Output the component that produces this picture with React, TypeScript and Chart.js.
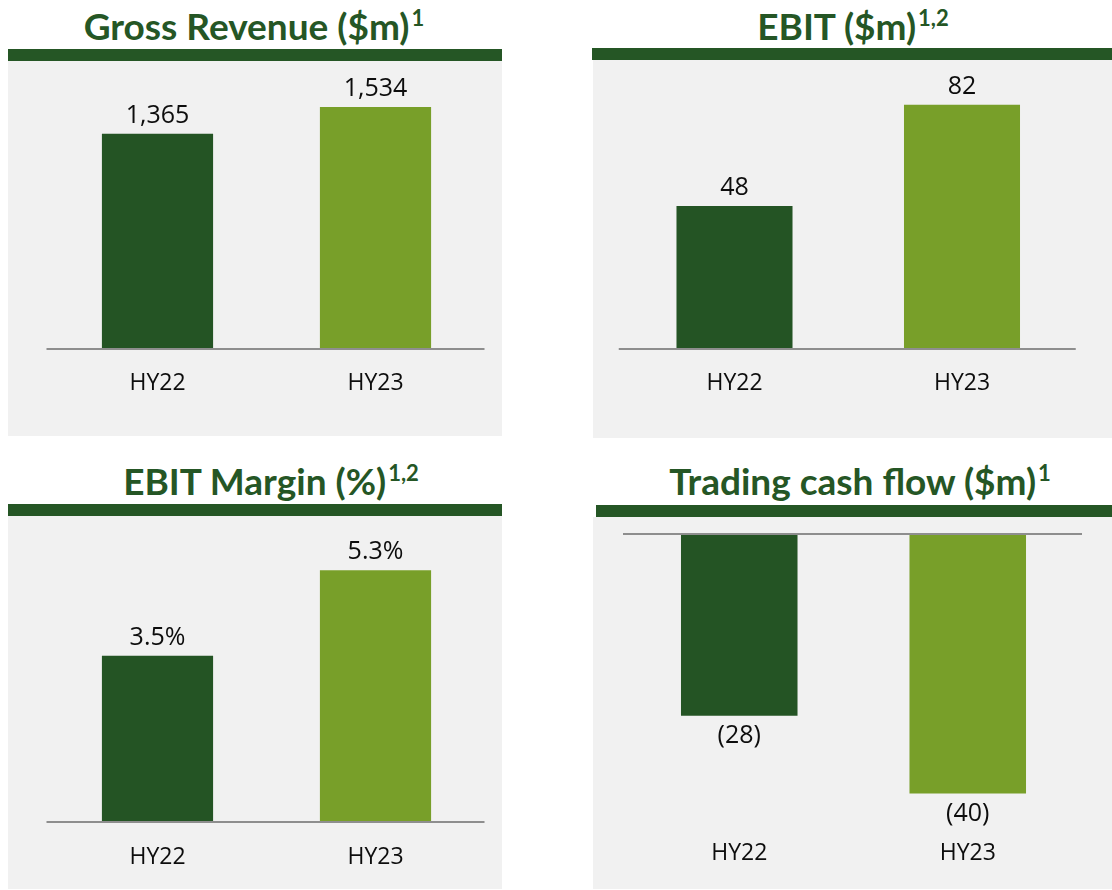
import React, { useEffect, useRef } from 'react';
import { Chart, registerables } from 'chart.js';

Chart.register(...registerables);

const categories = ['HY22', 'HY23'];
const grossRevenue = [1365, 1534];
const ebit = [48, 82];
const ebitMargin = [3.5, 5.3];
const tradingCashFlow = [-28, -40];
const barColors = ['#245424', '#789F29'];

const DARK = '#255625';
const PANEL_BG = '#F1F1F1';
const AXIS_GREY = '#8E8E8E';

type PanelDef = {
  title: string;
  sup: string;
  titleCenter: number;
  titleTop: number;
  strip: { left: number; top: number; w: number; h: number };
  left: number;
  top: number;
  w: number;
  h: number;
  canvasH: number;
  values: number[];
  min: number;
  max: number;
  padding: { left: number; right: number; top: number; bottom: number };
  tickPadding: number;
  format: (v: number) => string;
};

const panels: PanelDef[] = [
  {
    title: 'Gross Revenue ($m)',
    sup: '1',
    titleCenter: 254,
    titleTop: 7,
    strip: { left: 8, top: 49, w: 494, h: 12 },
    left: 8, top: 61, w: 494, h: 375, canvasH: 375,
    values: grossRevenue,
    min: 0, max: 1600,
    padding: { left: 40.5, right: 17.5, top: 35.7, bottom: 17.4 },
    tickPadding: 21,
    format: (v) => v.toLocaleString('en-US'),
  },
  {
    title: 'EBIT ($m)',
    sup: '1,2',
    titleCenter: 853,
    titleTop: 7,
    strip: { left: 592, top: 48, w: 520, h: 12 },
    left: 593, top: 60, w: 519, h: 378, canvasH: 378,
    values: ebit,
    min: 0, max: 90,
    padding: { left: 27.75, right: 36.25, top: 21, bottom: 19.4 },
    tickPadding: 21,
    format: (v) => String(v),
  },
  {
    title: 'EBIT Margin (%)',
    sup: '1,2',
    titleCenter: 271,
    titleTop: 462,
    strip: { left: 8, top: 504, w: 494, h: 12 },
    left: 8, top: 516, w: 494, h: 373, canvasH: 403,
    values: ebitMargin,
    min: 0, max: 6,
    padding: { left: 40.5, right: 17.5, top: 21, bottom: 25.4 },
    tickPadding: 22,
    format: (v) => v.toFixed(1) + '%',
  },
  {
    title: 'Trading cash flow ($m)',
    sup: '1',
    titleCenter: 860,
    titleTop: 462,
    strip: { left: 596, top: 505, w: 516, h: 12 },
    left: 593, top: 517, w: 519, h: 372, canvasH: 372,
    values: tradingCashFlow,
    min: -45, max: 0,
    padding: { left: 32, right: 30, top: 17, bottom: 9 },
    tickPadding: 13.2,
    format: (v) => (v < 0 ? '(' + Math.abs(v) + ')' : String(v)),
  },
];

function Panel({ p }: { p: PanelDef }) {
  const ref = useRef<HTMLCanvasElement | null>(null);
  useEffect(() => {
    if (!ref.current) return;
    const labelPlugin = {
      id: 'valueLabels' + p.title.replace(/\W/g, ''),
      afterDatasetsDraw(chart: any) {
        const ctx = chart.ctx;
        const meta = chart.getDatasetMeta(0);
        const data = chart.data.datasets[0].data as number[];
        ctx.save();
        const y0 = chart.scales.y.getPixelForValue(0);
        ctx.strokeStyle = AXIS_GREY;
        ctx.lineWidth = 2;
        ctx.beginPath();
        ctx.moveTo(chart.chartArea.left - 2, y0);
        ctx.lineTo(chart.chartArea.right, y0);
        ctx.stroke();
        ctx.font = '25px "Open Sans"';
        ctx.fillStyle = '#0d0d0d';
        ctx.textAlign = 'center';
        ctx.textBaseline = 'alphabetic';
        meta.data.forEach((bar: any, i: number) => {
          const v = data[i];
          const { x, y } = bar.getProps(['x', 'y'], true);
          const txt = p.format(v);
          if (v >= 0) ctx.fillText(txt, x, y - 11);
          else ctx.fillText(txt, x, y + 27);
        });
        ctx.restore();
      },
    };
    const chart = new Chart(ref.current, {
      type: 'bar',
      data: {
        labels: categories,
        datasets: [
          {
            data: p.values,
            backgroundColor: barColors,
            borderWidth: 0,
            barPercentage: 0.51,
            categoryPercentage: 1,
          },
        ],
      },
      options: {
        responsive: false,
        animation: false,
        devicePixelRatio: 1,
        layout: { padding: p.padding },
        plugins: {
          legend: { display: false },
          tooltip: { enabled: false },
          title: { display: false },
        },
        scales: {
          x: {
            grid: { display: false, drawTicks: false },
            border: { display: false },
            ticks: {
              padding: p.tickPadding,
              color: '#0d0d0d',
              font: { family: '"Open Sans"', size: 23 },
            },
          },
          y: {
            display: false,
            min: p.min,
            max: p.max,
            grace: 0,
          },
        },
      },
      plugins: [labelPlugin],
    } as any);
    return () => chart.destroy();
  }, []);

  return (
    <>
      <div
        style={{
          position: 'absolute',
          left: p.titleCenter - 300,
          top: p.titleTop,
          width: 600,
          textAlign: 'center',
          fontFamily: 'Lato, sans-serif',
          fontWeight: 700,
          fontSize: 37,
          lineHeight: '37px',
          color: DARK,
          whiteSpace: 'nowrap',
        }}
      >
        {p.title}
        <span style={{ fontSize: 22, position: 'relative', top: -14, marginLeft: 2 }}>{p.sup}</span>
      </div>
      <div
        style={{
          position: 'absolute',
          left: p.strip.left,
          top: p.strip.top,
          width: p.strip.w,
          height: p.strip.h,
          background: DARK,
        }}
      />
      <div
        style={{
          position: 'absolute',
          left: p.left,
          top: p.top,
          width: p.w,
          height: p.h,
          background: PANEL_BG,
          overflow: 'visible',
        }}
      >
        <canvas ref={ref} width={p.w} height={p.canvasH} style={{ display: 'block', width: p.w, height: p.canvasH }} />
      </div>
    </>
  );
}

export default function App() {
  return (
    <div style={{ position: 'absolute', left: 0, top: 0, width: 1112, height: 890, background: '#ffffff', overflow: 'hidden' }}>
      {panels.map((p) => (
        <Panel key={p.title} p={p} />
      ))}
    </div>
  );
}
